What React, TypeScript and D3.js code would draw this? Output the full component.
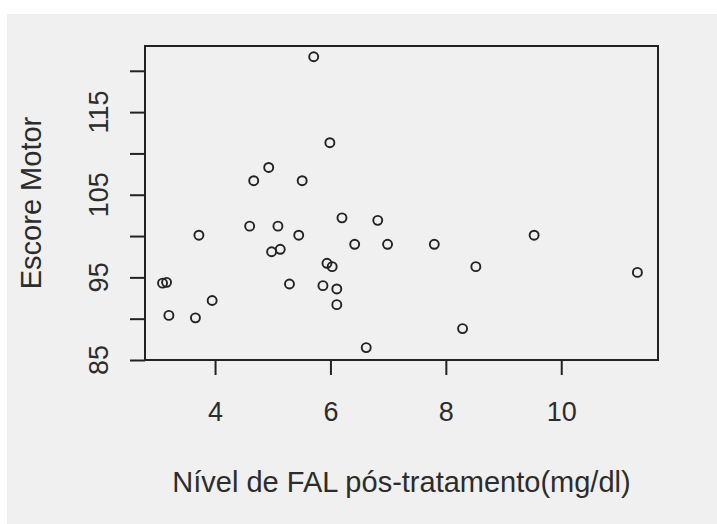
import React, { useRef, useEffect } from 'react';
import * as d3 from 'd3';

// FAL level after treatment (mg/dl) and motor score
const falLevel = [
  5.71, 5.99, 4.93, 4.67, 5.51, 6.2, 4.6, 5.09, 3.72, 5.45, 6.42, 4.98, 5.13,
  5.94, 6.03, 3.09, 3.16, 5.29, 5.87, 6.11, 3.95, 6.11, 3.2, 3.66, 6.82, 6.99,
  7.8, 9.53, 8.52, 11.32, 8.29, 6.62,
];
const motorScore = [
  121.7, 111.3, 108.3, 106.7, 106.7, 102.2, 101.2, 101.2, 100.1, 100.1, 99.0,
  98.1, 98.4, 96.7, 96.3, 94.3, 94.4, 94.2, 94.0, 93.6, 92.2, 91.7, 90.4, 90.1,
  101.9, 99.0, 99.0, 100.1, 96.3, 95.6, 88.8, 86.5,
];

const xTicks = [4, 6, 8, 10];
const yTicks = [85, 90, 95, 100, 105, 110, 115, 120];
const yTickLabels = [85, 95, 105, 115];

const xTitle = 'Nível de FAL pós-tratamento(mg/dl)';
const yTitle = 'Escore Motor';

const ScatterPlot = ({ width, height }) => {
  const svgRef = useRef(null);

  useEffect(() => {
    const svg = d3.select(svgRef.current);
    svg.selectAll('*').remove();

    const box = { left: 145, right: 658, top: 46, bottom: 360 };
    const ink = '#222';
    const textInk = '#2c2c2c';
    const font = '"Liberation Sans", Arial, sans-serif';

    // grey device background
    svg.append('rect')
      .attr('x', 7).attr('y', 14)
      .attr('width', width - 7).attr('height', height - 14)
      .attr('fill', '#f0f0f0');

    const x = d3.scaleLinear().domain([2.786, 11.677]).range([box.left, box.right]);
    const y = d3.scaleLinear().domain([85, 123]).range([box.bottom, box.top]);

    // x axis ticks
    const xAxis = d3.axisBottom(x).tickValues(xTicks).tickSize(15).tickPadding(27)
      .tickSizeOuter(0).tickFormat(d3.format('d'));
    const gx = svg.append('g')
      .attr('transform', `translate(0,${box.bottom})`)
      .call(xAxis);
    gx.select('.domain').remove();
    gx.selectAll('line').attr('stroke', ink).attr('stroke-width', 2);
    gx.selectAll('text')
      .attr('fill', textInk)
      .style('font-family', font)
      .style('font-size', '27px');

    // y axis ticks, labels drawn rotated like R
    const yAxis = d3.axisLeft(y).tickValues(yTicks).tickSize(15).tickFormat(() => '');
    const gy = svg.append('g')
      .attr('transform', `translate(${box.left},0)`)
      .call(yAxis);
    gy.select('.domain').remove();
    gy.selectAll('line').attr('stroke', ink).attr('stroke-width', 2);

    svg.append('g')
      .selectAll('text')
      .data(yTickLabels)
      .enter().append('text')
      .attr('transform', d => `translate(108,${y(d)}) rotate(-90)`)
      .attr('text-anchor', 'middle')
      .attr('fill', textInk)
      .style('font-family', font)
      .style('font-size', '27px')
      .text(d => d);

    // frame
    svg.append('rect')
      .attr('x', box.left).attr('y', box.top)
      .attr('width', box.right - box.left).attr('height', box.bottom - box.top)
      .attr('fill', 'none')
      .attr('stroke', ink)
      .attr('stroke-width', 2);

    // points
    svg.append('g')
      .selectAll('circle')
      .data(falLevel.map((v, i) => [v, motorScore[i]]))
      .enter().append('circle')
      .attr('cx', d => x(d[0]))
      .attr('cy', d => y(d[1]))
      .attr('r', 4.5)
      .attr('fill', 'none')
      .attr('stroke', ink)
      .attr('stroke-width', 1.9);

    // axis titles
    svg.append('text')
      .attr('x', (box.left + box.right) / 2)
      .attr('y', 492)
      .attr('text-anchor', 'middle')
      .attr('fill', textInk)
      .style('font-family', font)
      .style('font-size', '29px')
      .text(xTitle);

    svg.append('text')
      .attr('transform', `translate(41,${(box.top + box.bottom) / 2}) rotate(-90)`)
      .attr('text-anchor', 'middle')
      .attr('fill', textInk)
      .style('font-family', font)
      .style('font-size', '29px')
      .text(yTitle);
  }, [width, height]);

  return <svg ref={svgRef} width={width} height={height} />;
};

export default function App() {
  return (
    <div style={{ position: 'absolute', left: 0, top: 0, background: '#fff' }}>
      <ScatterPlot width={717} height={524} />
    </div>
  );
}
